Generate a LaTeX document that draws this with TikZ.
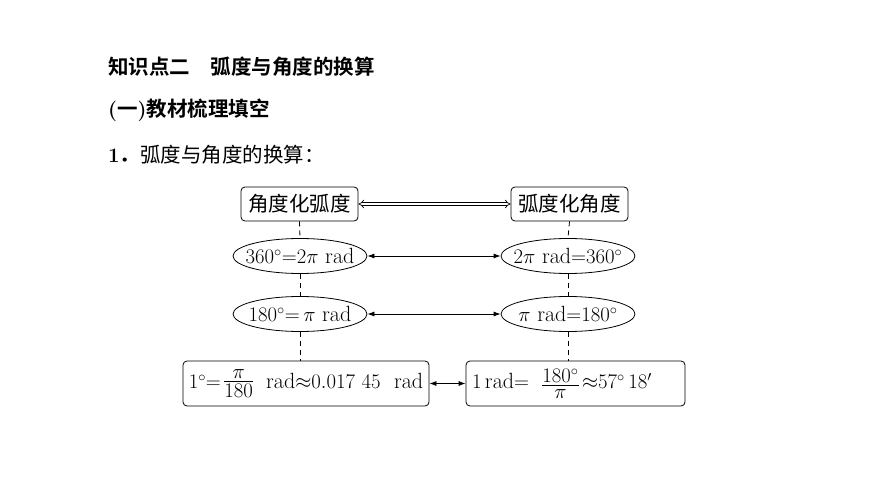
\documentclass[tikz,border=0pt]{standalone}
\usepackage{amsmath}
\usepackage{fontspec}
\newfontfamily\cjk{Noto Sans CJK SC}[BoldFont={Noto Sans CJK SC Bold}]
\usetikzlibrary{shapes.geometric,arrows.meta}
\newcommand\tfr[2]{\vcenter{\offinterlineskip\halign{\hfil$##$\hfil\cr #1\cr\noalign{\kern2.5pt\hrule height0.7pt\kern3pt} #2\cr}}}
\begin{document}
\begin{tikzpicture}[x=1pt,y=-1pt,
  heading/.style={anchor=west,inner sep=0pt,font=\fontsize{20.5}{24}\selectfont},
  rbox/.style={draw,rounded corners=4pt,inner sep=0pt,line width=0.8pt,font=\fontsize{22}{26}\selectfont},
  ell/.style={draw,ellipse,inner sep=0pt,line width=0.8pt,minimum width=134pt,minimum height=35pt,font=\fontsize{22}{26}\selectfont},
  dline/.style={dashed,dash pattern=on 5pt off 4pt,line width=0.8pt},
  biarrow/.style={{Latex[length=7pt,width=5pt]}-{Latex[length=7pt,width=5pt]},line width=0.8pt}
]
\useasboundingbox (0,0) rectangle (870,489);
\node[heading] (t1) at (108,67) {\cjk\bfseries 知识点二\hspace{1em}弧度与角度的换算};
\node[heading] (t2) at (108,110) {\bfseries(\cjk 一\normalfont\bfseries)\cjk\bfseries 教材梳理填空};
\node[heading] (t3) at (108,155) {\bfseries 1\cjk\bfseries ．\mdseries 弧度与角度的换算：};

\node[rbox,minimum width=117pt,minimum height=34pt,font=\fontsize{20.5}{24}\selectfont] (b1) at (299.5,204) {\cjk 角度化弧度};
\node[rbox,minimum width=117pt,minimum height=34pt,font=\fontsize{20.5}{24}\selectfont] (b2) at (569.5,204) {\cjk 弧度化角度};
\draw[double,double distance=2.2pt,line width=0.7pt,{Implies}-{Implies}] (b1.east) -- (b2.west);

\node[ell] (e1) at (300,256) {\makebox[0pt]{$360^\circ{=}2\pi\ \mathrm{rad}$}};
\node[ell] (e2) at (568,256) {\makebox[0pt]{$2\pi\ \mathrm{rad}{=}360^\circ$}};
\draw[biarrow] (e1.east) -- (e2.west);

\node[ell] (e3) at (300,314) {\makebox[0pt]{$180^\circ{=}\,\pi\ \mathrm{rad}$}};
\node[ell] (e4) at (568,314) {\makebox[0pt]{$\pi\ \mathrm{rad}{=}180^\circ$}};
\draw[biarrow] (e3.east) -- (e4.west);

\node[rbox,minimum width=246pt,minimum height=45pt] (c1) at (306,383.5) {\makebox[0pt]{$1^\circ{=}\,\tfr{\pi}{180}\ \ \mathrm{rad}{\approx}0.017\ 45\ \ \mathrm{rad}$}};
\node[rbox,minimum width=219pt,minimum height=45pt] (c2) at (575.5,383.5) {\makebox[0pt]{\makebox[207pt][l]{$1\,\mathrm{rad}{=}\ \ \tfr{180^\circ}{\pi}\,{\approx}57^\circ\,18'$}}};
\draw[biarrow] (c1.east) -- (c2.west);

\draw[dline] (b1.south) -- (e1.north);
\draw[dline] (e1.south) -- (e3.north);
\draw[dline] (e3.south) -- (e3.south |- c1.north);
\draw[dline] (b2.south) -- (e2.north);
\draw[dline] (e2.south) -- (e4.north);
\draw[dline] (e4.south) -- (e4.south |- c2.north);
\end{tikzpicture}
\end{document}
